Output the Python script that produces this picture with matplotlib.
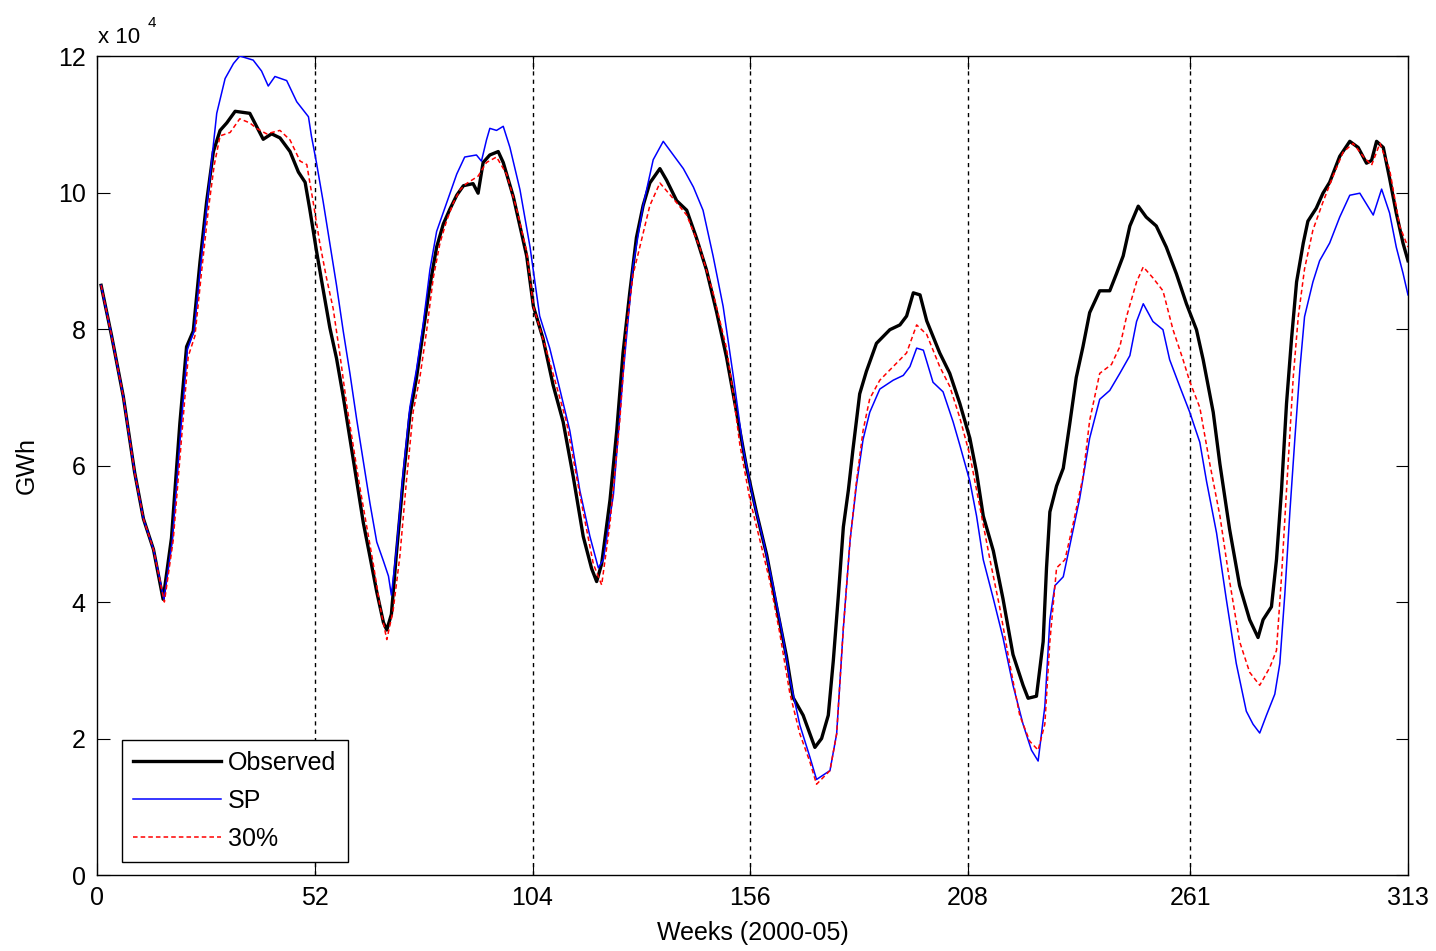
import numpy as np
import matplotlib
matplotlib.use('Agg')
from matplotlib import pyplot as plt

plt.rcParams['font.family'] = ['Liberation Sans', 'DejaVu Sans']

# Weekly energy, in units of 10^4 GWh
obs_wk = [1, 3.5, 6.3, 9, 11.1, 13.5, 15.8, 17.8, 19.8, 21.4, 23, 24.6, 26.2, 27.8, 29.4, 31, 33,
          36.5, 38.1, 39.7, 41.7, 43.7, 46.1, 48.1, 49.7, 50.8, 52.4, 54, 55.6, 57.2, 58.8, 60.4,
          62, 63.6, 65.2, 66.8, 68.4, 69.2, 70.3, 71.5, 73.1, 74.7, 76.3, 77.9, 79.5, 81.1, 82.7,
          84.3, 85.9, 87.5, 89.8, 91, 92.2, 93.8, 95.8, 97, 99.4, 102.6, 104.2, 106.5, 108.9,
          111.3, 113.7, 116.1, 118.1, 119.3, 120.5, 122.5, 124.1, 125.6, 127.2, 128.8, 130.4, 132,
          134.4, 136, 138.4, 140.8, 143.1, 145.5, 147.9, 150.3, 152.7, 155.1, 157.5, 159.9, 162.2,
          164.6, 166.2, 168.6, 170.2, 171.4, 173, 174.6, 175.8, 177, 178.2, 179.4, 180.5, 182.1,
          183.7, 186.1, 189.3, 191.7, 193.3, 194.9, 196.5, 198.1, 201.2, 203.6, 206, 208.4, 210,
          211.6, 214, 216.3, 218.7, 221.1, 222.3, 224.3, 225.9, 226.7, 227.5, 229.1, 230.7, 232.2,
          233.8, 235.4, 237, 239.4, 241.8, 243.4, 245, 246.6, 248.6, 250.5, 252.9, 255.3, 257.7,
          260.1, 262.5, 264.1, 266.5, 268.1, 270.4, 272.8, 275.2, 277.2, 278.4, 280.4, 281.6,
          282.8, 284, 285.2, 286.4, 288, 289.1, 291.1, 292.7, 294.3, 296.7, 299.1, 301.1, 303.1,
          304.3, 305.5, 307.1, 308.6, 310.2, 311.8, 313]
obs = [8.64, 7.9, 7.01, 5.9, 5.22, 4.77, 4.04, 4.94, 6.62, 7.74, 7.97, 8.98, 9.87, 10.6, 10.91,
       11.02, 11.19, 11.16, 10.97, 10.78, 10.86, 10.8, 10.6, 10.3, 10.15, 9.76, 9.15, 8.58, 8.02,
       7.57, 7.01, 6.4, 5.78, 5.16, 4.66, 4.15, 3.7, 3.59, 3.82, 4.71, 5.78, 6.73, 7.29, 7.97,
       8.64, 9.2, 9.54, 9.76, 9.96, 10.1, 10.13, 9.99, 10.44, 10.55, 10.6, 10.44, 9.94, 9.07, 8.33,
       7.86, 7.18, 6.64, 5.84, 4.96, 4.49, 4.3, 4.56, 5.5, 6.51, 7.65, 8.53, 9.34, 9.81, 10.14,
       10.35, 10.18, 9.88, 9.74, 9.34, 8.87, 8.26, 7.59, 6.78, 5.97, 5.3, 4.69, 3.95, 3.21, 2.6,
       2.34, 2.07, 1.87, 2.0, 2.34, 3.14, 4.09, 5.1, 5.64, 6.24, 7.05, 7.38, 7.79, 7.99, 8.06,
       8.19, 8.53, 8.5, 8.12, 7.65, 7.35, 6.91, 6.4, 5.9, 5.26, 4.75, 4.05, 3.23, 2.78, 2.59,
       2.62, 3.42, 4.5, 5.32, 5.7, 5.96, 6.59, 7.29, 7.74, 8.24, 8.56, 8.56, 8.81, 9.07, 9.51,
       9.8, 9.64, 9.51, 9.2, 8.81, 8.37, 7.99, 7.55, 6.78, 6.02, 5.07, 4.24, 3.74, 3.48, 3.74,
       3.93, 4.62, 5.64, 6.91, 7.86, 8.69, 9.26, 9.58, 9.77, 9.99, 10.15, 10.53, 10.75, 10.66,
       10.43, 10.47, 10.75, 10.66, 10.21, 9.7, 9.26, 9.0]

sp_wk = [1, 3.5, 6.3, 9, 11.1, 13.5, 16, 18, 20, 21.6, 23.2, 24.8, 26.4, 28.6, 30.6, 32.6, 34.1,
         37.3, 39.3, 40.9, 42.5, 45.3, 47.7, 50.5, 51.2, 52.4, 54, 55.6, 57.2, 58.8, 60.4, 62,
         63.6, 65.2, 66.8, 68.4, 69.6, 70.3, 71.5, 73.1, 74.7, 76.3, 77.9, 79.5, 81.1, 82.7, 84.3,
         85.9, 87.8, 90.6, 91.8, 93, 93.8, 95.4, 97, 98.6, 101, 103.4, 105.7, 108.1, 110.5, 112.9,
         115.3, 117.7, 119.7, 120.9, 123.3, 125.6, 128, 130.4, 132.8, 135.2, 137.6, 140, 142.4,
         144.7, 147.1, 149.5, 151.9, 154.3, 156.7, 159.1, 161.5, 163.8, 165.4, 167.8, 170.2,
         171.8, 175, 176.6, 178.2, 179.8, 181.3, 182.9, 184.5, 186.9, 190.1, 192.5, 194.1, 195.7,
         197.3, 199.6, 202, 204.4, 206, 208.4, 210, 211.6, 214, 216.3, 218.7, 221.1, 223.1, 224.7,
         226.3, 227.5, 228.7, 230.7, 232.2, 234.6, 237, 239.4, 241.8, 244.2, 246.6, 248.2, 249.8,
         252.1, 254.5, 256.1, 258.5, 260.9, 263.3, 264.9, 267.3, 269.6, 272, 274.4, 276, 277.6,
         279.2, 281.2, 282.4, 283.6, 284.8, 286, 287.2, 288.3, 290.3, 291.9, 294.3, 296.7, 299.1,
         301.5, 303.1, 304.7, 306.7, 308.6, 310.2, 311.8, 313]
sp = [8.64, 7.9, 7.01, 5.9, 5.22, 4.77, 4.04, 4.9, 6.5, 7.7, 7.97, 8.95, 9.9, 11.16, 11.67,
      11.89, 12.0, 11.94, 11.78, 11.56, 11.7, 11.64, 11.33, 11.11, 10.83, 10.44, 9.87, 9.26, 8.64,
      7.97, 7.35, 6.68, 6.06, 5.44, 4.88, 4.6, 4.38, 4.1, 4.77, 5.89, 6.85, 7.41, 8.08, 8.87,
      9.43, 9.71, 9.99, 10.27, 10.52, 10.55, 10.46, 10.77, 10.94, 10.91, 10.97, 10.66, 10.04, 9.2,
      8.19, 7.72, 7.12, 6.51, 5.63, 4.96, 4.5, 4.62, 5.57, 7.32, 8.93, 9.81, 10.48, 10.75, 10.55,
      10.35, 10.08, 9.74, 9.07, 8.33, 7.32, 6.24, 5.5, 4.9, 4.22, 3.48, 2.88, 2.2, 1.73, 1.4,
      1.53, 2.07, 3.62, 4.9, 5.7, 6.38, 6.78, 7.12, 7.25, 7.32, 7.45, 7.72, 7.69, 7.22, 7.08,
      6.64, 6.3, 5.77, 5.26, 4.62, 4.05, 3.48, 2.78, 2.21, 1.83, 1.67, 2.47, 3.74, 4.24, 4.37,
      4.81, 5.51, 6.4, 6.97, 7.1, 7.35, 7.61, 8.11, 8.37, 8.11, 7.99, 7.55, 7.16, 6.78, 6.34,
      5.77, 5.01, 4.05, 3.1, 2.4, 2.21, 2.08, 2.34, 2.65, 3.1, 4.12, 5.32, 6.4, 7.42, 8.18, 8.69,
      9.0, 9.26, 9.64, 9.96, 9.99, 9.83, 9.67, 10.05, 9.7, 9.2, 8.82, 8.5]

p30_wk = [1, 3.5, 6.3, 9, 11.1, 13.5, 16.1, 18.2, 20.2, 21.8, 23.4, 25, 26.6, 28, 29.4, 31.8,
          34.1, 36.5, 38.1, 40.5, 43.7, 46.1, 48.5, 50.1, 51.6, 53.2, 54.8, 56.4, 58, 59.6, 61.2,
          62.8, 64.4, 66, 67.6, 69.2, 70.7, 72.3, 73.9, 75.5, 77.1, 78.7, 80.3, 81.9, 83.5, 85.1,
          86.7, 88.2, 91, 93, 95.4, 97.8, 100.2, 102.6, 104.2, 108.1, 112.1, 115.3, 118.5, 120.5,
          122.5, 124.8, 126.4, 128, 129.6, 132, 134.4, 137.6, 140.8, 143.9, 147.1, 150.3, 151.9,
          153.5, 155.9, 158.3, 160.7, 163, 165.4, 167.8, 170.2, 171.8, 175, 176.6, 178.2, 179.8,
          181.3, 182.9, 184.5, 186.9, 190.1, 193.3, 195.7, 198.1, 201.2, 203.6, 206, 208.4, 210.8,
          213.2, 215.5, 217.9, 220.3, 222.7, 224.7, 226.3, 227.5, 229.1, 231.1, 233, 235.4, 237,
          239.4, 242.2, 244.2, 245.8, 248.2, 249.8, 252.1, 254.5, 256.9, 259.3, 260.9, 263.3,
          265.7, 268.1, 270.4, 272.8, 275.2, 277.6, 280, 281.6, 282.8, 284, 285.6, 286.8, 288.3,
          290.3, 292.7, 295.1, 297.5, 299.9, 302.3, 304.3, 306.3, 308.6, 311, 313]
p30 = [8.64, 7.9, 7.01, 5.9, 5.22, 4.77, 4.0, 4.9, 6.4, 7.6, 7.9, 8.85, 9.75, 10.4, 10.83, 10.88,
       11.08, 11.02, 10.94, 10.86, 10.91, 10.77, 10.46, 10.41, 9.87, 9.26, 8.75, 8.3, 7.63, 6.9,
       6.28, 5.67, 5.11, 4.55, 3.93, 3.45, 3.87, 4.66, 5.78, 6.79, 7.29, 7.97, 8.75, 9.26, 9.59,
       9.85, 10.04, 10.13, 10.24, 10.44, 10.52, 10.27, 9.76, 9.13, 8.33, 7.52, 6.64, 5.57, 4.56,
       4.25, 5.16, 6.64, 7.99, 8.8, 9.2, 9.81, 10.14, 9.91, 9.67, 9.2, 8.53, 7.72, 7.05, 6.3, 5.5,
       4.9, 4.29, 3.55, 2.67, 2.07, 1.66, 1.33, 1.53, 2.07, 3.62, 4.9, 5.75, 6.51, 6.98, 7.25,
       7.45, 7.65, 8.06, 7.92, 7.45, 7.16, 6.7, 6.15, 5.39, 4.62, 3.93, 3.1, 2.34, 1.96, 1.83,
       2.21, 3.42, 4.5, 4.62, 5.13, 5.83, 6.66, 7.35, 7.48, 7.74, 8.18, 8.69, 8.91, 8.75, 8.56,
       7.99, 7.55, 7.23, 6.85, 6.02, 5.26, 4.31, 3.42, 2.97, 2.78, 3.04, 3.29, 4.37, 5.64, 7.29,
       8.18, 8.88, 9.45, 9.86, 10.24, 10.59, 10.72, 10.53, 10.4, 10.72, 10.34, 9.51, 9.2]

year_marks = [52, 104, 156, 208, 261]
xticks = [0, 52, 104, 156, 208, 261, 313]

fig = plt.figure(figsize=(14.36, 9.51), dpi=100)
ax = fig.add_axes([0.0675, 0.0799, 0.913, 0.8612])

for w in year_marks:
    ax.axvline(w, color='k', linestyle=(0, (3, 3)), linewidth=1.0, zorder=1)

ax.plot(obs_wk, obs, color='k', linewidth=2.4, label='Observed', zorder=2)
ax.plot(sp_wk, sp, color='b', linewidth=1.1, label='SP', zorder=3)
ax.plot(p30_wk, p30, color='r', linewidth=1.1, linestyle=(0, (3, 2)), label='30%', zorder=4)

ax.set_xlim(0, 313)
ax.set_ylim(0, 12)
ax.set_xticks(xticks)
ax.set_yticks(range(0, 13, 2))
ax.tick_params(direction='in', length=9, width=0.8, top=True, right=True,
               labelsize=18, pad=8)
for s in ax.spines.values():
    s.set_linewidth(1.0)

ax.set_xlabel('Weeks (2000-05)', fontsize=18, labelpad=8)
ax.set_ylabel('GWh', fontsize=18, labelpad=14)

# MATLAB style exponent label above the y axis
ax.text(0.001, 1.016, 'x 10', transform=ax.transAxes, fontsize=16, va='baseline')
ax.text(0.0385, 1.036, '4', transform=ax.transAxes, fontsize=11, va='baseline')

leg = ax.legend(loc='lower left', bbox_to_anchor=(0.019, 0.016), borderaxespad=0,
                fontsize=18, handlelength=3.5, handletextpad=0.3, labelspacing=0.55,
                borderpad=0.45, fancybox=False, framealpha=1)
leg.get_frame().set_edgecolor('k')
leg.get_frame().set_linewidth(1.0)

plt.savefig('out.png', dpi=100)
